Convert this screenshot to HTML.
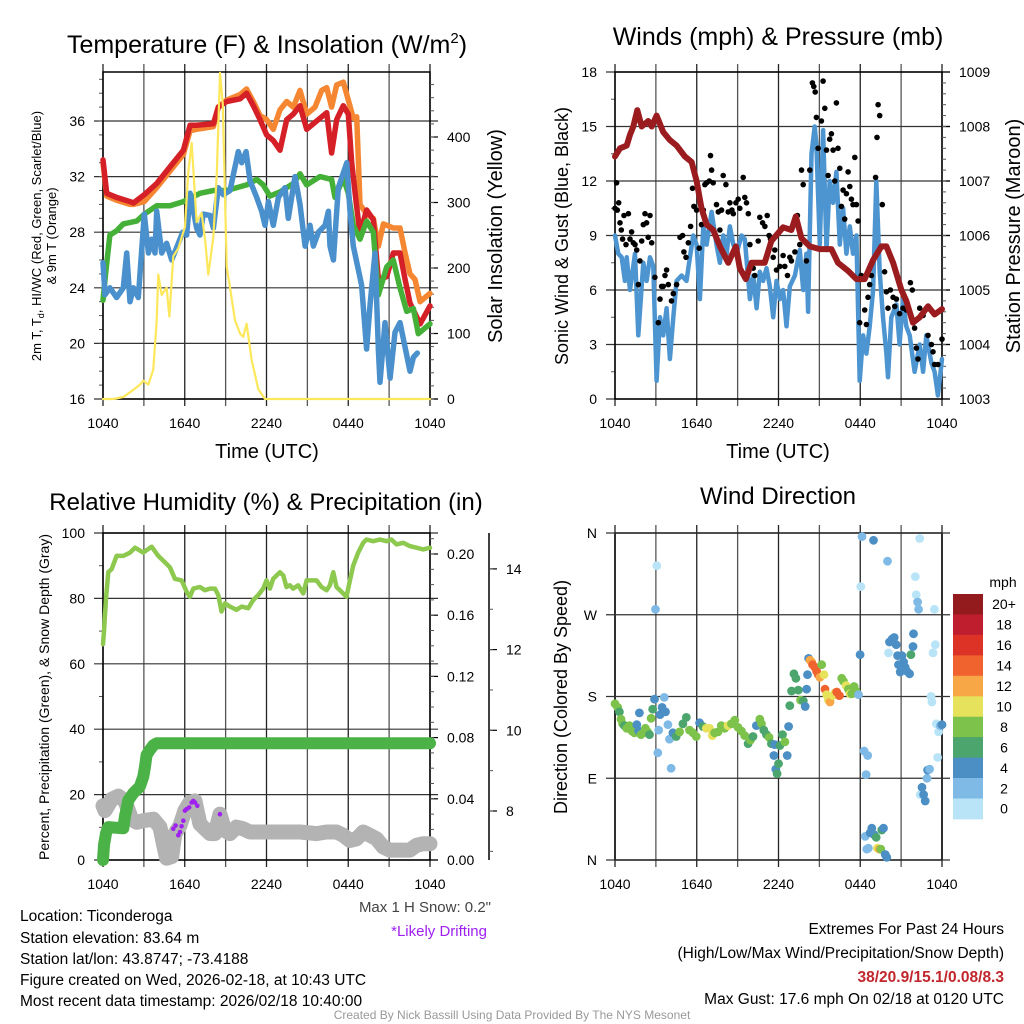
<!DOCTYPE html>
<html><head><meta charset="utf-8"><style>
html,body{margin:0;padding:0;background:#fff;}
svg{display:block;font-family:"Liberation Sans",Arial,sans-serif;}
</style></head><body>
<svg id="chart" width="1024" height="1024" viewBox="0 0 1024 1024" xmlns="http://www.w3.org/2000/svg">
<rect x="0" y="0" width="1024" height="1024" fill="#fff"/>
<text x="267" y="53" font-size="25" text-anchor="middle">Temperature (F) &amp; Insolation (W/m<tspan font-size="15" dy="-10">2</tspan><tspan dy="10">)</tspan></text>
<text x="778" y="45" font-size="25" text-anchor="middle">Winds (mph) &amp; Pressure (mb)</text>
<text x="266" y="510" font-size="24" text-anchor="middle">Relative Humidity (%) &amp; Precipitation (in)</text>
<text x="778" y="504" font-size="24" text-anchor="middle">Wind Direction</text>
<text x="267" y="458" font-size="20" text-anchor="middle">Time (UTC)</text>
<text x="778" y="458" font-size="20" text-anchor="middle">Time (UTC)</text>
<text transform="translate(41,236) rotate(-90)" font-size="13" text-anchor="middle">2m T, T<tspan font-size="9" dy="3">d</tspan><tspan dy="-3">, HI/WC (Red, Green, Scarlet/Blue)</tspan></text>
<text transform="translate(56,236) rotate(-90)" font-size="13" text-anchor="middle">&amp; 9m T (Orange)</text>
<text transform="translate(502,236) rotate(-90)" font-size="20" text-anchor="middle">Solar Insolation (Yellow)</text>
<text transform="translate(568,236) rotate(-90)" font-size="18" text-anchor="middle">Sonic Wind &amp; Gust (Blue, Black)</text>
<text transform="translate(1020,236) rotate(-90)" font-size="20" text-anchor="middle">Station Pressure (Maroon)</text>
<text transform="translate(49,697) rotate(-90)" font-size="14" text-anchor="middle">Percent, Precipitation (Green), &amp; Snow Depth (Gray)</text>
<text transform="translate(567,697) rotate(-90)" font-size="18" text-anchor="middle">Direction (Colored By Speed)</text>
<text x="491" y="912" font-size="15" text-anchor="end" fill="#444">Max 1 H Snow: 0.2"</text>
<text x="487" y="936" font-size="15" text-anchor="end" fill="#a020f0">*Likely Drifting</text>
<g font-size="15.5">
<text x="20" y="921">Location: Ticonderoga</text>
<text x="20" y="943">Station elevation: 83.64 m</text>
<text x="20" y="964">Station lat/lon: 43.8747; -73.4188</text>
<text x="20" y="985">Figure created on Wed, 2026-02-18, at 10:43 UTC</text>
<text x="20" y="1006">Most recent data timestamp: 2026/02/18 10:40:00</text>
</g>
<g font-size="15.5" text-anchor="end">
<text x="1004" y="934">Extremes For Past 24 Hours</text>
<text x="1004" y="958">(High/Low/Max Wind/Precipitation/Snow Depth)</text>
<text x="1004" y="982" font-weight="bold" fill="#c1272d">38/20.9/15.1/0.08/8.3</text>
<text x="1004" y="1004">Max Gust: 17.6 mph On 02/18 at 0120 UTC</text>
</g>
<text x="512" y="1019" font-size="12" text-anchor="middle" fill="#999">Created By Nick Bassill Using Data Provided By The NYS Mesonet</text>
<text x="1003" y="587" font-size="14" text-anchor="middle">mph</text>
</svg>
<script>
// ---------- DATA ----------
const xTickLabels = ["1040","1640","2240","0440","1040"];
const tempTicks = [16,20,24,28,32,36];
const insolTicks = [0,100,200,300,400];
const windTicks = [0,3,6,9,12,15,18];
const presTicks = [1003,1004,1005,1006,1007,1008,1009];
const pctTicks = [0,20,40,60,80,100];
const precipTicks = [0,0.04,0.08,0.12,0.16,0.20];
const snowTicks = [8,10,12,14];
const dirTicks = ["N","E","S","W","N"];
const speedLabels = ["20+","18","16","14","12","10","8","6","4","2","0"];
const speedColors = ["#931b1e","#be1e2d","#dd3327","#f0632f","#f7a746","#e6e25c","#7dc24a","#4ba56d","#4b8fc5","#7fbae6","#b9e4f7"];

const redT = [0,0.27,1.0,1.98,2.23,3.03,3.94,4.92,5.9,6.39,6.87,8.1,8.46,9.08,10.06,10.54,11.03,11.52,12.01,12.5,12.99,13.48,13.97,14.46,14.95,15.56,16.05,16.42,16.78,17.15,17.64,18.0,18.25,18.6,18.86,19.35,19.84,20.21,20.82,21.31,21.8,22.17,22.53,23.27,24];
const redV = [33.2,30.8,30.5,30.2,30.1,30.7,31.5,32.7,33.9,35.7,35.7,35.8,37.0,37.4,37.6,38.0,37.1,36.1,35.0,34.6,33.9,36.1,36.5,37.1,35.4,35.9,36.3,36.6,33.7,36.1,37.1,36.5,33.0,30.0,27.9,29.6,28.9,24.6,24.8,26.5,26.5,24.6,22.9,21.4,22.7];
const orangeT = [0,0.27,1.0,1.98,2.23,3.03,3.94,4.92,5.9,6.39,6.87,8.1,8.46,9.08,10.06,10.54,11.03,11.52,12.01,12.5,12.99,13.48,13.97,14.46,14.95,15.56,16.05,16.42,16.78,17.15,17.64,18.0,18.37,18.62,18.86,19.35,19.84,20.21,20.58,21.31,21.8,22.17,22.53,22.9,23.27,24];
const orangeV = [33.0,30.6,30.3,30.0,30.0,30.2,31.2,32.4,33.6,35.3,35.4,35.6,37.0,37.5,37.9,38.3,37.4,36.4,36.1,35.4,36.8,37.4,37.0,38.2,36.5,37.0,38.2,38.4,37.0,38.6,38.8,37.5,36.2,36.3,30.0,29.3,29.0,27.0,28.6,28.3,28.3,26.5,25.0,24.6,23.0,23.6];
const greenT = [0,0.22,0.51,1.0,1.49,2.47,3.03,3.94,4.92,5.9,7.12,8.1,9.08,10.54,11.28,11.76,12.25,12.99,13.97,14.46,14.95,15.93,16.78,17.03,17.64,18.0,18.37,18.86,19.35,19.84,20.21,20.82,21.31,21.8,22.29,22.78,23.14,24];
const greenV = [23.1,25.3,27.8,28.1,28.6,28.8,29.3,29.9,29.9,30.2,30.8,31.0,31.0,31.4,31.8,31.4,30.6,30.9,31.5,32.2,31.4,32.0,31.8,30.5,31.9,30.8,28.5,27.5,28.8,28.0,23.5,25.5,26.0,24.0,22.3,22.5,20.7,21.4];
const blueT = [0,0.15,0.51,1.0,1.49,1.74,1.98,2.23,2.59,3.03,3.33,3.57,3.82,3.94,4.31,4.67,5.04,5.85,6.14,6.39,6.87,7.12,7.36,7.85,8.1,8.46,8.83,9.32,9.93,10.18,10.5,10.79,11.28,11.65,11.89,12.14,12.5,12.87,13.36,13.6,14.09,14.46,14.83,15.19,15.44,15.81,16.3,16.54,16.66,16.91,17.27,17.89,18.13,18.37,18.98,19.35,19.6,19.96,20.21,20.33,20.7,21.07,21.43,21.8,22.53,22.78,23.07];
const blueV = [25.8,23.5,24.0,23.3,24.0,26.5,23.0,24.0,23.3,29.3,26.5,27.5,26.5,29.5,26.5,27.2,26.0,28.0,27.8,30.8,28.3,27.8,29.3,29.2,28.3,31.2,30.7,31.0,33.8,33.0,33.8,31.7,30.5,29.5,28.5,30.2,28.5,30.5,31.2,29.0,32.0,30.0,27.0,28.5,27.0,28.0,28.5,29.5,27.0,26.0,31.2,33.0,29.5,27.0,24.2,19.6,22.8,26.5,19.5,17.2,21.5,17.5,20.8,21.5,18.0,19.0,19.3];
const insolT = [0,0.76,1.49,2.23,2.72,2.96,3.33,3.69,3.94,4.06,4.31,4.67,4.87,5.16,5.53,6.02,6.26,6.51,6.87,7.24,7.49,7.73,8.1,8.35,8.59,8.79,9.08,9.32,9.69,10.06,10.3,10.54,10.91,11.4,11.89,24];
const insolV = [0,0,3,14,22,28,22,45,120,190,159,170,126,218,230,263,347,391,270,284,243,190,248,345,498,450,202,170,120,100,95,115,60,15,0,0];

const presT = [0,0.37,0.86,1.1,1.34,1.64,1.96,2.44,2.69,3.05,3.54,4.03,4.52,5.13,5.62,5.99,6.35,6.72,7.21,7.7,8.31,8.87,9.16,9.6,10.02,10.99,11.48,12.34,12.95,13.27,13.69,14.3,15.03,15.88,16.37,17.11,17.72,18.33,18.94,19.55,19.92,20.41,21.02,21.38,21.87,22.36,22.97,23.46,24];
const presV = [1007.45,1007.6,1007.65,1007.85,1008.0,1008.3,1008.0,1008.1,1008.0,1008.2,1007.9,1007.75,1007.65,1007.45,1007.35,1007.0,1006.5,1006.2,1006.1,1005.8,1005.5,1005.8,1005.4,1005.2,1005.5,1005.5,1005.9,1006.15,1006.1,1006.35,1005.95,1005.8,1005.75,1005.75,1005.5,1005.35,1005.2,1005.2,1005.55,1005.8,1005.8,1005.5,1005.0,1004.8,1004.4,1004.5,1004.7,1004.55,1004.65];
const windT = [0,0.24,0.49,0.73,0.86,1.1,1.47,1.71,2.08,2.32,2.57,2.81,3.05,3.3,3.54,3.79,4.03,4.28,4.52,4.89,5.25,5.5,5.74,5.99,6.23,6.48,6.72,7.09,7.45,7.7,7.94,8.19,8.43,8.68,8.92,9.29,9.53,9.9,10.14,10.39,10.63,10.87,11.12,11.36,11.61,11.85,12.1,12.34,12.59,12.83,13.2,13.56,13.81,14.05,14.17,14.42,14.66,14.78,15.03,15.27,15.52,15.76,16.01,16.25,16.5,16.74,16.98,17.23,17.47,17.72,17.96,18.21,18.45,18.69,18.94,19.18,19.43,19.67,19.92,20.04,20.28,20.65,20.89,21.14,21.38,21.63,21.99,22.36,22.61,22.85,23.22,23.46,23.7,24];
const windV = [9,8,7.8,6.5,7.8,6,8,3.5,7.5,6.5,7.8,7.3,1.0,4.5,3.5,5.0,2.2,4.5,6.5,6.8,6.5,7.8,9,8.5,5.5,9.5,8.5,10.3,8.5,7.5,9,8,9.5,8.5,8,9,8.8,5.5,6.8,5.0,7.0,6.5,7.2,6.2,4.5,6.5,5.5,6.0,4.0,6.2,6.8,8.2,6.0,8.0,4.8,13.5,15,14,8.5,14.8,8.2,12,10.8,12.5,8.5,10.5,8.0,9.5,8.0,9.0,1.0,3.5,2.5,4.0,6.0,12.0,7.0,4.5,2.5,1.2,4.5,5.2,3.0,5.5,4.0,3.5,1.5,3.0,1.5,3.5,2.0,1.5,0.2,2.2];
const gustT = [0,.12,.17,.27,.37,.46,.56,.66,.81,.98,1.10,1.22,1.34,1.47,1.59,1.71,1.83,1.96,2.08,2.20,2.32,2.44,2.57,2.69,2.93,3.18,3.30,3.42,3.54,3.67,3.79,3.91,4.15,4.28,4.52,4.77,4.96,5.06,5.21,5.38,5.55,5.69,5.79,5.99,6.18,6.35,6.48,6.60,6.72,6.92,7.01,7.09,7.21,7.45,7.58,7.70,7.82,7.94,8.14,8.31,8.43,8.58,8.68,8.87,9.04,9.16,9.41,9.53,9.65,9.78,9.90,10.14,10.26,10.51,10.63,10.83,11.00,11.17,11.31,11.41,11.61,11.73,11.85,12.10,12.34,12.46,12.66,12.83,12.95,13.20,13.39,13.56,13.69,13.81,14.05,14.30,14.49,14.59,14.69,14.78,14.91,15.15,15.27,15.40,15.52,15.64,15.76,15.88,16.01,16.13,16.25,16.37,16.50,16.62,16.74,16.86,16.98,17.11,17.23,17.35,17.47,17.60,17.72,17.84,17.96,18.08,18.33,18.45,18.57,18.69,18.82,19.13,19.23,19.31,19.43,19.62,19.79,19.92,20.04,20.21,20.41,20.53,20.65,20.89,21.14,21.38,21.68,21.82,21.99,22.12,22.24,22.36,22.61,22.97,23.22,23.34,23.46,23.70,24];
const gustV = [10.5,11.9,10.4,10.8,9.7,9.3,8.8,10.1,8.5,10.2,8.8,9.2,8.6,8.5,8.2,6.3,7.6,8.7,9.6,10.2,9.7,8.9,10.1,8.6,6.7,4.2,5.5,6.2,6.2,6.8,7.1,6.3,5.4,5.8,6.3,8.9,9.0,8.1,7.8,8.6,9.5,11.6,10.6,10.4,8.3,9.6,10.4,11.8,11.9,12.0,13.4,12.6,11.9,10.7,10.3,9.3,10.4,12.3,11.8,10.3,10.8,10.4,10.2,10.8,11.0,10.5,12.2,11.1,10.8,10.2,8.5,7.2,6.8,8.7,10.0,9.7,9.5,10.1,9.0,8.8,7.8,8.2,7.1,7.3,7.9,7.3,6.8,7.8,7.6,8.1,10.1,8.5,12.6,11.8,7.6,12.6,17.4,17.2,16.9,15.5,13.8,15.3,17.5,16.0,13.7,12.3,14.3,14.6,13.7,12.0,16.3,13.8,12.7,10.6,11.5,9.9,11.3,12.5,11.7,11.0,10.7,13.3,10.7,9.8,4.2,6.8,4.9,4.1,5.6,6.3,6.8,12.2,14.4,16.2,15.6,10.7,7.0,5.9,5.0,6.0,5.6,5.1,5.5,4.7,5.0,4.9,6.4,6.0,3.9,2.8,2.2,5.0,4.6,3.5,3.0,2.6,1.9,1.9,3.3];

const rhT = [0,0.07,0.22,0.39,0.64,1.0,1.49,1.98,2.35,2.96,3.57,4.06,4.55,4.91,5.28,5.77,6.14,6.38,6.63,7.11,7.48,7.85,8.22,8.46,8.7,8.95,9.32,9.8,10.17,10.66,11.03,11.39,11.76,12.0,12.25,12.49,12.98,13.23,13.47,13.72,13.96,14.33,14.69,14.94,15.31,15.67,16.04,16.41,16.65,16.9,17.14,17.51,17.87,18.12,18.36,18.73,19.1,19.34,19.83,20.32,20.81,21.17,21.54,22.03,22.52,23.01,23.5,24];
const rhV = [66,70,80,88,89,93,93,94,95.5,94,95.8,93,91,89.5,86,85.5,82,80.5,83,83.5,82.5,83,83,81,76,78.5,77.5,76.5,77.5,77,79.5,81,83,85.5,83,86,88,87,83.5,84,83,84,81.5,85.5,85.5,85.5,83.5,82.5,84,88,83.5,82,80.5,85.5,90,94,97,98,97.5,98,97.5,98,96.5,97,96,95.5,95,95.5];
const precipT = [0,0.07,0.22,0.39,1.49,1.61,1.86,2.22,2.71,2.96,3.08,3.2,3.45,3.69,3.94,24];
const precipV = [0,0.0098,0.0175,0.0215,0.0207,0.0283,0.039,0.0436,0.048,0.0545,0.061,0.0687,0.072,0.075,0.0763,0.0763];
const snowT = [0,0.15,0.64,1.12,1.61,2.1,2.47,2.96,3.69,4.18,4.43,4.67,5.04,5.28,5.65,6.01,6.38,6.75,7.11,7.48,7.85,8.22,8.58,8.95,9.32,9.8,10.29,10.78,12.0,14.45,15.67,16.41,17.14,17.63,18.12,18.61,19.1,19.58,20.07,20.56,21.05,21.78,22.52,23.01,23.5,24];
const snowV = [8.13,8.01,8.29,8.37,8.25,7.80,7.72,7.76,7.80,7.60,7.19,6.83,6.87,7.44,7.64,8.01,8.21,8.25,7.68,7.56,7.44,7.44,7.92,7.52,7.44,7.60,7.56,7.48,7.48,7.48,7.44,7.48,7.48,7.40,7.27,7.31,7.48,7.40,7.31,7.11,7.03,7.03,7.03,7.15,7.19,7.19];
const driftT = [5.16,5.33,5.53,5.65,5.77,5.89,6.01,6.14,6.33,6.5,6.63,6.75,6.92,8.58];
const driftV = [7.56,7.64,7.40,7.48,7.62,7.76,8.01,8.05,8.09,8.21,8.25,8.21,8.13,7.92];

const dirT = [0,0.2,0.32,0.44,0.56,0.69,0.86,1.06,1.25,1.42,1.6,1.74,1.79,1.91,2.09,2.23,2.4,2.53,2.65,2.77,2.9,2.97,3.07,3.14,3.21,3.31,3.46,3.61,3.71,3.88,4.0,4.12,4.25,4.49,4.74,4.98,5.23,5.47,5.72,5.96,6.21,6.45,6.7,6.94,7.14,7.31,7.56,7.8,8.05,8.29,8.54,8.79,9.03,9.28,9.52,9.77,9.94,10.13,10.38,10.63,10.75,10.92,11.12,11.31,11.48,11.66,11.73,11.8,11.9,12.0,12.1,12.29,12.47,12.64,12.74,12.83,12.96,13.13,13.28,13.45,13.62,13.82,13.96,14.06,14.13,14.21,14.31,14.43,14.5,14.67,14.8,14.92,15.04,15.17,15.34,15.41,15.53,15.66,15.78,15.98,16.15,16.27,16.47,16.64,16.76,16.96,17.13,17.25,17.37,17.55,17.69,17.87,17.99,18.04,18.13,18.28,18.43,18.55,18.36,18.48,18.6,18.72,18.85,18.97,19.02,19.17,19.26,19.41,19.51,19.58,19.71,19.83,19.95,20.0,20.07,20.15,20.32,20.49,20.64,20.74,20.81,20.93,21.06,21.18,21.3,21.42,21.62,21.72,21.87,21.91,22.04,22.11,22.21,22.28,22.36,22.4,22.53,22.65,22.77,22.9,22.94,23.09,23.19,23.26,23.34,23.44,23.51,23.58,23.68,23.75,23.88,24.0];
const dirDeg = [172,168,163,155,150,148,145,148,142,140,149,142,162,138,140,145,141,138,156,166,177,276,324,118,143,160,168,179,163,149,133,101,140,136,141,150,157,143,140,136,151,147,145,145,137,140,141,148,145,148,150,154,146,142,137,128,132,136,148,155,150,143,138,135,128,115,127,100,95,106,126,138,130,115,147,170,186,205,200,187,176,175,169,188,204,222,220,218,215,212,208,204,201,215,204,188,182,176,174,181,184,185,181,200,197,192,188,183,183,191,186,182,226,301,356,120,94,115,26,12,13,30,35,352,28,25,13,12,12,33,35,6,3,329,228,240,243,245,237,225,215,207,225,218,212,208,205,226,235,249,312,292,284,276,354,72,80,72,65,90,99,100,180,174,228,276,237,150,113,141,148,149];
const dirSpd = [8,8,6,8,8,6,8,8,8,8,4,4,4,8,8,8,8,6,8,6,4,2,0,2,2,4,4,2,4,2,2,2,4,6,8,6,6,8,8,8,4,6,10,10,10,8,8,8,8,10,8,8,8,8,8,6,8,6,4,8,8,6,6,8,6,4,4,4,6,6,6,6,8,4,4,6,6,6,6,6,8,6,4,4,4,4,12,12,14,14,14,14,12,8,10,14,10,10,12,10,10,14,14,8,8,10,8,10,8,8,8,2,4,0,2,2,2,2,2,2,2,4,4,4,4,6,10,12,8,6,4,4,4,2,0,4,4,4,4,4,4,4,4,4,4,4,4,6,4,4,0,0,2,2,0,0,4,4,4,2,4,2,0,0,0,0,0,0,0,0,2,4];

// ---------- HELPERS ----------
const NS = 'http://www.w3.org/2000/svg';
const svg = document.getElementById('chart');
function mk(tag, attrs, parent) {
  const e = document.createElementNS(NS, tag);
  for (const k in attrs) e.setAttribute(k, attrs[k]);
  (parent || svg).appendChild(e);
  return e;
}
function linePath(ts, vs, sx, sy) {
  let d = '';
  for (let i = 0; i < ts.length; i++) d += (i ? 'L' : 'M') + sx(ts[i]).toFixed(1) + ',' + sy(vs[i]).toFixed(1);
  return d;
}
function xScaleFor(x0, x1) { return h => x0 + h * (x1 - x0) / 24; }

function drawFrame(name, x0, x1, y0, y1, leftTicks, leftY, leftFmt, minorLeft) {
  const g = mk('g', {});
  
  
  for (let k = 0; k <= 8; k++) {
    const x = x0 + k * (x1 - x0) / 8;
    const gl = mk('line', {x1: x, x2: x, y1: y0 - 8, y2: y1 + 7, stroke: k % 2 ? '#555' : '#222', 'stroke-width': 1.3}, g);
    
    
  }
  for (let k = 0; k < xTickLabels.length; k++) {
    const x = x0 + k * (x1 - x0) / 4;
    const t = mk('text', {x: x, y: y1 + 29, 'font-size': 14, 'text-anchor': 'middle'}, g);
    t.textContent = xTickLabels[k];
    
    
  }
  for (const v of leftTicks) {
    const y = leftY(v);
    const gl = mk('line', {x1: x0 - 9, x2: x1 + 8, y1: y, y2: y, stroke: '#333', 'stroke-width': 1.2}, g);
    
    
    const t = mk('text', {x: x0 - 18, y: y + 5, 'font-size': 14, 'text-anchor': 'end'}, g);
    t.textContent = leftFmt(v);
    
    
  }
  for (const v of minorLeft) {
    const y = leftY(v);
    const m = mk('line', {x1: x0 - 4, x2: x0, y1: y, y2: y, stroke: '#555', 'stroke-width': 1}, g);
    
    
  }
  const r = mk('rect', {x: x0, y: y0, width: x1 - x0, height: y1 - y0, fill: 'none', stroke: '#000', 'stroke-width': 1.5}, g);
  
  
  return g;
}
function drawRightAxis(name, axisX, y0, y1, ticks, sy, fmt, minor, lineExtra) {
  const g = mk('g', {});
  
  
  if (lineExtra) {
    const l = mk('line', {x1: axisX, x2: axisX, y1: y0, y2: y1, stroke: '#000', 'stroke-width': 1.5}, g);
    
    
  }
  for (const v of ticks) {
    const y = sy(v);
    const tk = mk('line', {x1: axisX, x2: axisX + 8, y1: y, y2: y, stroke: '#000', 'stroke-width': 1.2}, g);
    
    
    const t = mk('text', {x: axisX + 17, y: y + 5, 'font-size': 14}, g);
    t.textContent = fmt(v);
    
    
  }
  for (const v of minor) {
    const y = sy(v);
    if (y < y0 - 0.5 || y > y1 + 0.5) continue;
    const tk = mk('line', {x1: axisX, x2: axisX + 4, y1: y, y2: y, stroke: '#555', 'stroke-width': 1}, g);
    
    
  }
}
function range(a, b, s) { const r = []; for (let v = a; v <= b + 1e-9; v += s) r.push(+v.toFixed(4)); return r; }
function series(name, ts, vs, sx, sy, color, w, parent) {
  const p = mk('path', {d: linePath(ts, vs, sx, sy), fill: 'none', stroke: color, 'stroke-width': w, 'stroke-linejoin': 'round', 'stroke-linecap': 'round'}, parent);
  
  
  return p;
}

// ---------- PANEL 1: TEMPERATURE ----------
(function () {
  const x0 = 103, x1 = 430, y0 = 72, y1 = 399;
  const sx = xScaleFor(x0, x1);
  const sy = v => y1 - (v - 16) * 13.9;
  const si = v => y1 - v * 0.655;
  drawFrame('temperature', x0, x1, y0, y1, tempTicks, sy, v => String(v), range(17, 39, 1));
  drawRightAxis('insolation-axis', x1, y0, y1, insolTicks, si, v => String(v), range(0, 490, 20), false);
  const g = mk('g', {});
  
  
  series('temp-9m-orange-line', orangeT, orangeV, sx, sy, '#f58732', 5.5, g);
  series('temp-2m-red-line', redT, redV, sx, sy, '#d62027', 5.5, g);
  series('dewpoint-green-line', greenT, greenV, sx, sy, '#44b038', 5.5, g);
  series('windchill-blue-line', blueT, blueV, sx, sy, '#4a90cd', 5.5, g);
  series('insolation-yellow-line', insolT, insolV, sx, si, '#fde75a', 2.2, g);
})();

// ---------- PANEL 2: WINDS ----------
(function () {
  const x0 = 615, x1 = 942, y0 = 72, y1 = 399;
  const sx = xScaleFor(x0, x1);
  const sy = v => y1 - v * 327 / 18;
  const sp = v => y1 - (v - 1003) * 327 / 6;
  drawFrame('winds', x0, x1, y0, y1, windTicks, sy, v => String(v), range(1.5, 16.5, 3));
  drawRightAxis('pressure-axis', x1, y0, y1, presTicks, sp, v => String(v), range(1003.2, 1008.8, 0.2), false);
  const g = mk('g', {});
  
  
  series('sonic-wind-line', windT, windV, sx, sy, '#4d95d0', 4.5, g);
  for (let i = 0; i < gustT.length; i++) {
    const c = mk('circle', {cx: sx(gustT[i]).toFixed(1), cy: sy(gustV[i]).toFixed(1), r: 2.8, fill: '#000'}, g);
    
    
  }
  series('pressure-maroon-line', presT, presV, sx, sp, '#9b1c1f', 6, g);
})();

// ---------- PANEL 3: RH & PRECIP ----------
(function () {
  const x0 = 103, x1 = 430, y0 = 533, y1 = 860;
  const sx = xScaleFor(x0, x1);
  const sy = v => y1 - v * 3.27;
  const sq = v => y1 - v * 1530;
  const ss = v => 811 - (v - 8) * 40.35;
  drawFrame('humidity', x0, x1, y0, y1, pctTicks, sy, v => String(v), range(10, 90, 20));
  drawRightAxis('precip-axis', x1, y0, y1, precipTicks, sq, v => v.toFixed(2), range(0.01, 0.21, 0.01), false);
  drawRightAxis('snow-axis', 489, y0, y1, snowTicks, ss, v => String(v), range(7, 15, 1), true);
  const g = mk('g', {});
  
  
  series('snow-depth-gray-line', snowT, snowV, sx, ss, '#b3b3b3', 15, g);
  series('precip-green-line', precipT, precipV, sx, sq, '#4bb247', 12, g);
  for (let i = 0; i < driftT.length; i++) {
    const c = mk('circle', {cx: sx(driftT[i]).toFixed(1), cy: ss(driftV[i]).toFixed(1), r: 2.3, fill: '#a020f0'}, g);
    
    
  }
  series('relative-humidity-line', rhT, rhV, sx, sy, '#8dc84f', 4.5, g);
})();

// ---------- PANEL 4: WIND DIRECTION ----------
(function () {
  const x0 = 615, x1 = 942, y0 = 533, y1 = 860;
  const sx = xScaleFor(x0, x1);
  const sy = d => y1 - d * 327 / 360;
  const g0 = drawFrame('direction', x0, x1, y0, y1, [], sy, v => v, []);
  for (let k = 0; k < dirTicks.length; k++) {
    const y = sy(k * 90);
    const gl = mk('line', {x1: x0 - 9, x2: x1 + 8, y1: y, y2: y, stroke: '#333', 'stroke-width': 1.2}, g0);
    
    
    const t = mk('text', {x: x0 - 18, y: y + 5, 'font-size': 14, 'text-anchor': 'end'}, g0);
    t.textContent = dirTicks[k];
    
    
  }
  const g = mk('g', {});
  
  
  for (let i = 0; i < dirT.length; i++) {
    const idx = 10 - Math.min(10, Math.max(0, Math.round(dirSpd[i] / 2)));
    const c = mk('circle', {cx: sx(dirT[i]).toFixed(1), cy: sy(dirDeg[i]).toFixed(1), r: 4.4, fill: speedColors[idx]}, g);
    
    
  }
  const cb = mk('g', {});
  
  
  const cy0 = 594, ch = 20.45;
  for (let i = 0; i < speedLabels.length; i++) {
    const r = mk('rect', {x: 953, y: (cy0 + i * ch).toFixed(1), width: 30, height: (ch + 0.5).toFixed(1), fill: speedColors[i]}, cb);
    
    
    const t = mk('text', {x: 1004, y: (cy0 + i * ch + ch / 2 + 5).toFixed(1), 'font-size': 14, 'text-anchor': 'middle'}, cb);
    t.textContent = speedLabels[i];
    
    
  }
})();
</script>
</body></html>
